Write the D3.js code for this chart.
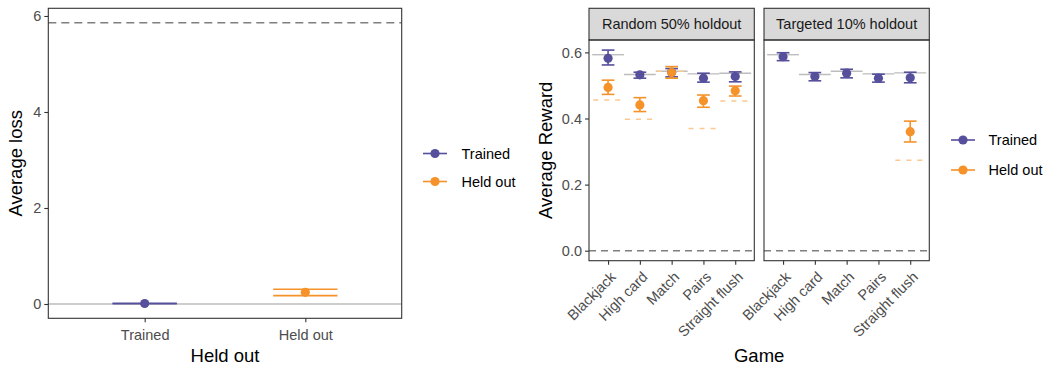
<!DOCTYPE html>
<html><head><meta charset="utf-8">
<script src="https://cdn.jsdelivr.net/npm/d3@7"></script>
<style>
body{margin:0;background:#fff;}
svg text{font-family:"Liberation Sans",Arial,Helvetica,sans-serif;}
</style></head>
<body><svg id="c" width="1047" height="366"></svg>
<script>
// ---------- data ----------
const lossCategories = ["Trained", "Held out"];
const lossMean = [0.01, 0.243];
const lossLow  = [0.005, 0.174];
const lossHigh = [0.015, 0.306];
const lossChance = 5.86;

const games = ["Blackjack", "High card", "Match", "Pairs", "Straight flush"];
const holdouts = ["Random 50% holdout", "Targeted 10% holdout"];
const seriesNames = ["Trained", "Held out"];

// Random 50% holdout
const randTrainedMean = [0.582, 0.532, 0.540, 0.522, 0.527];
const randTrainedLow  = [0.562, 0.522, 0.526, 0.510, 0.511];
const randTrainedHigh = [0.607, 0.540, 0.551, 0.537, 0.541];
const randHeldMean    = [0.494, 0.441, 0.539, 0.454, 0.484];
const randHeldLow     = [0.473, 0.421, 0.522, 0.434, 0.468];
const randHeldHigh    = [0.516, 0.463, 0.557, 0.471, 0.498];
const randTrainedRef  = [0.593, 0.533, 0.543, 0.535, 0.537];
const randHeldRef     = [0.456, 0.398, 0.543, 0.370, 0.453];

// Targeted 10% holdout
const targTrainedMean = [0.587, 0.527, 0.537, 0.522, 0.523];
const targTrainedLow  = [0.575, 0.514, 0.523, 0.510, 0.508];
const targTrainedHigh = [0.599, 0.539, 0.549, 0.534, 0.540];
const targHeldMean    = [null, null, null, null, 0.360];
const targHeldLow     = [null, null, null, null, 0.329];
const targHeldHigh    = [null, null, null, null, 0.392];
const targTrainedRef  = [0.593, 0.533, 0.543, 0.535, 0.538];
const targHeldRef     = [null, null, null, null, 0.274];

const rewardTicks = [0.0, 0.2, 0.4, 0.6];
const lossTicks = [0, 2, 4, 6];
const chanceReward = 0;

// ---------- style ----------
const PURPLE = "#554f9c", ORANGE = "#f5922a", LIGHTORANGE = "#fdc890";
const REFGRAY = "#bdbdbd", DASHGRAY = "#7f7f7f", FRAME = "#333333", TICKTXT = "#4d4d4d";
const colors = {"Trained": PURPLE, "Held out": ORANGE};

const svg = d3.select("#c");

function frame(g, x0, x1, y0, y1) {
  g.append("rect").attr("x", x0).attr("y", y0).attr("width", x1 - x0).attr("height", y1 - y0)
    .attr("fill", "none").attr("stroke", FRAME).attr("stroke-width", 1.1);
}
function errbar(g, cx, yl, yh, ym, half, col) {
  g.append("line").attr("x1", cx).attr("x2", cx).attr("y1", yl).attr("y2", yh)
    .attr("stroke", col).attr("stroke-width", 1.6);
  [yl, yh].forEach(y => g.append("line").attr("x1", cx - half).attr("x2", cx + half)
    .attr("y1", y).attr("y2", y).attr("stroke", col).attr("stroke-width", 1.6));
  g.append("circle").attr("cx", cx).attr("cy", ym).attr("r", 4.6).attr("fill", col);
}

// ---------- left panel ----------
{
  const x0 = 48.3, x1 = 401.7, y0 = 8.3, y1 = 318.3;
  const g = svg.append("g");
  const x = d3.scalePoint().domain(lossCategories).range([x0, x1]).padding(0.6);
  const y = d3.scaleLinear().domain([-0.298, 6.16]).range([y1, y0]);
  g.append("line").attr("x1", x0).attr("x2", x1).attr("y1", y(0)).attr("y2", y(0))
    .attr("stroke", REFGRAY).attr("stroke-width", 1.4);
  g.append("line").attr("x1", x0).attr("x2", x1).attr("y1", y(lossChance)).attr("y2", y(lossChance))
    .attr("stroke", DASHGRAY).attr("stroke-width", 1.5).attr("stroke-dasharray", "8,5");
  const half = x.step() * 0.2;
  lossCategories.forEach((c, i) => {
    errbar(g, x(c), y(lossLow[i]), y(lossHigh[i]), y(lossMean[i]), half, colors[c]);
  });
  frame(g, x0, x1, y0, y1);
  const ya = g.append("g").attr("transform", `translate(${x0},0)`)
    .call(d3.axisLeft(y).tickValues(lossTicks).tickSize(4).tickPadding(3).tickFormat(d3.format("d")));
  const xa = g.append("g").attr("transform", `translate(0,${y1})`)
    .call(d3.axisBottom(x).tickSize(4).tickPadding(4));
  [ya, xa].forEach(a => {
    a.select(".domain").remove();
    a.selectAll(".tick line").attr("stroke", FRAME).attr("stroke-width", 1.1);
    a.selectAll(".tick text").attr("fill", TICKTXT).style("font-size", "14.5px");
  });
  xa.selectAll(".tick text").attr("dy", "0.95em");
  g.append("text").attr("transform", `translate(22,${(y0 + y1) / 2}) rotate(-90)`)
    .attr("text-anchor", "middle").style("font-size", "18.5px").text("Average loss");
  g.append("text").attr("x", (x0 + x1) / 2).attr("y", 362).attr("text-anchor", "middle")
    .style("font-size", "18.5px").text("Held out");
  const lg = g.append("g");
  seriesNames.forEach((s, i) => {
    const yy = 153.5 + i * 28;
    lg.append("line").attr("x1", 423).attr("x2", 447).attr("y1", yy).attr("y2", yy)
      .attr("stroke", colors[s]).attr("stroke-width", 1.6);
    lg.append("circle").attr("cx", 435).attr("cy", yy).attr("r", 4.6).attr("fill", colors[s]);
    lg.append("text").attr("x", 461.5).attr("y", yy).attr("dy", "0.36em")
      .style("font-size", "14.5px").text(s);
  });
}

// ---------- right panels ----------
{
  const facets = [
    {name: holdouts[0], x0: 589, x1: 754.3, tm: randTrainedMean, tl: randTrainedLow, th: randTrainedHigh,
     hm: randHeldMean, hl: randHeldLow, hh: randHeldHigh, tr: randTrainedRef, hr: randHeldRef},
    {name: holdouts[1], x0: 764, x1: 929.3, tm: targTrainedMean, tl: targTrainedLow, th: targTrainedHigh,
     hm: targHeldMean, hl: targHeldLow, hh: targHeldHigh, tr: targTrainedRef, hr: targHeldRef}
  ];
  const y0 = 40, y1 = 260.7, sy0 = 8.3;
  const y = d3.scaleLinear().domain([-0.0303, 0.6375]).range([y1, y0]);
  facets.forEach((f, fi) => {
    const g = svg.append("g");
    const x = d3.scalePoint().domain(games).range([f.x0, f.x1]).padding(0.6);
    const st = x.step();
    g.append("rect").attr("x", f.x0).attr("y", sy0).attr("width", f.x1 - f.x0).attr("height", y0 - sy0)
      .attr("fill", "#d9d9d9").attr("stroke", FRAME).attr("stroke-width", 1.1);
    g.append("text").attr("x", (f.x0 + f.x1) / 2).attr("y", (sy0 + y0) / 2).attr("dy", "0.36em")
      .attr("text-anchor", "middle").attr("fill", "#1a1a1a").style("font-size", "14.5px").text(f.name);
    g.append("line").attr("x1", f.x0).attr("x2", f.x1).attr("y1", y(chanceReward)).attr("y2", y(chanceReward))
      .attr("stroke", DASHGRAY).attr("stroke-width", 1.5).attr("stroke-dasharray", "7,5");
    games.forEach((gm, i) => {
      if (f.tr[i] != null)
        g.append("line").attr("x1", x(gm) - st / 2).attr("x2", x(gm) + st / 2)
          .attr("y1", y(f.tr[i])).attr("y2", y(f.tr[i])).attr("stroke", REFGRAY).attr("stroke-width", 1.4);
    });
    games.forEach((gm, i) => {
      if (f.hr[i] != null)
        g.append("line").attr("x1", x(gm) - st / 2).attr("x2", x(gm) + st / 2)
          .attr("y1", y(f.hr[i])).attr("y2", y(f.hr[i])).attr("stroke", LIGHTORANGE).attr("stroke-width", 1.5)
          .attr("stroke-dasharray", "5,6").attr("stroke-dashoffset", -1);
    });
    const half = st * 0.2;
    games.forEach((gm, i) => {
      errbar(g, x(gm), y(f.tl[i]), y(f.th[i]), y(f.tm[i]), half, PURPLE);
    });
    games.forEach((gm, i) => {
      if (f.hm[i] != null) errbar(g, x(gm), y(f.hl[i]), y(f.hh[i]), y(f.hm[i]), half, ORANGE);
    });
    frame(g, f.x0, f.x1, y0, y1);
    const xa = g.append("g").attr("transform", `translate(0,${y1})`)
      .call(d3.axisBottom(x).tickSize(4).tickPadding(3));
    xa.select(".domain").remove();
    xa.selectAll(".tick line").attr("stroke", FRAME).attr("stroke-width", 1.1);
    xa.selectAll(".tick text").attr("fill", TICKTXT).style("font-size", "14.5px")
      .attr("text-anchor", "end").attr("y", 0).attr("dy", "0.7em")
      .attr("transform", "translate(1,10) rotate(-45)");
    if (fi === 0) {
      const ya = g.append("g").attr("transform", `translate(${f.x0},0)`)
        .call(d3.axisLeft(y).tickValues(rewardTicks).tickSize(4).tickPadding(3).tickFormat(d3.format(".1f")));
      ya.select(".domain").remove();
      ya.selectAll(".tick line").attr("stroke", FRAME).attr("stroke-width", 1.1);
      ya.selectAll(".tick text").attr("fill", TICKTXT).style("font-size", "14.5px");
    }
  });
  svg.append("text").attr("transform", `translate(552,${(y0 + y1) / 2}) rotate(-90)`)
    .attr("text-anchor", "middle").style("font-size", "18.5px").text("Average Reward");
  svg.append("text").attr("x", (589 + 929.3) / 2).attr("y", 362).attr("text-anchor", "middle")
    .style("font-size", "18.5px").text("Game");
  const lg = svg.append("g");
  seriesNames.forEach((s, i) => {
    const yy = 140 + i * 30;
    lg.append("line").attr("x1", 951).attr("x2", 975).attr("y1", yy).attr("y2", yy)
      .attr("stroke", colors[s]).attr("stroke-width", 1.6);
    lg.append("circle").attr("cx", 963).attr("cy", yy).attr("r", 4.6).attr("fill", colors[s]);
    lg.append("text").attr("x", 988.5).attr("y", yy).attr("dy", "0.36em")
      .style("font-size", "14.5px").text(s);
  });
}
</script></body></html>
